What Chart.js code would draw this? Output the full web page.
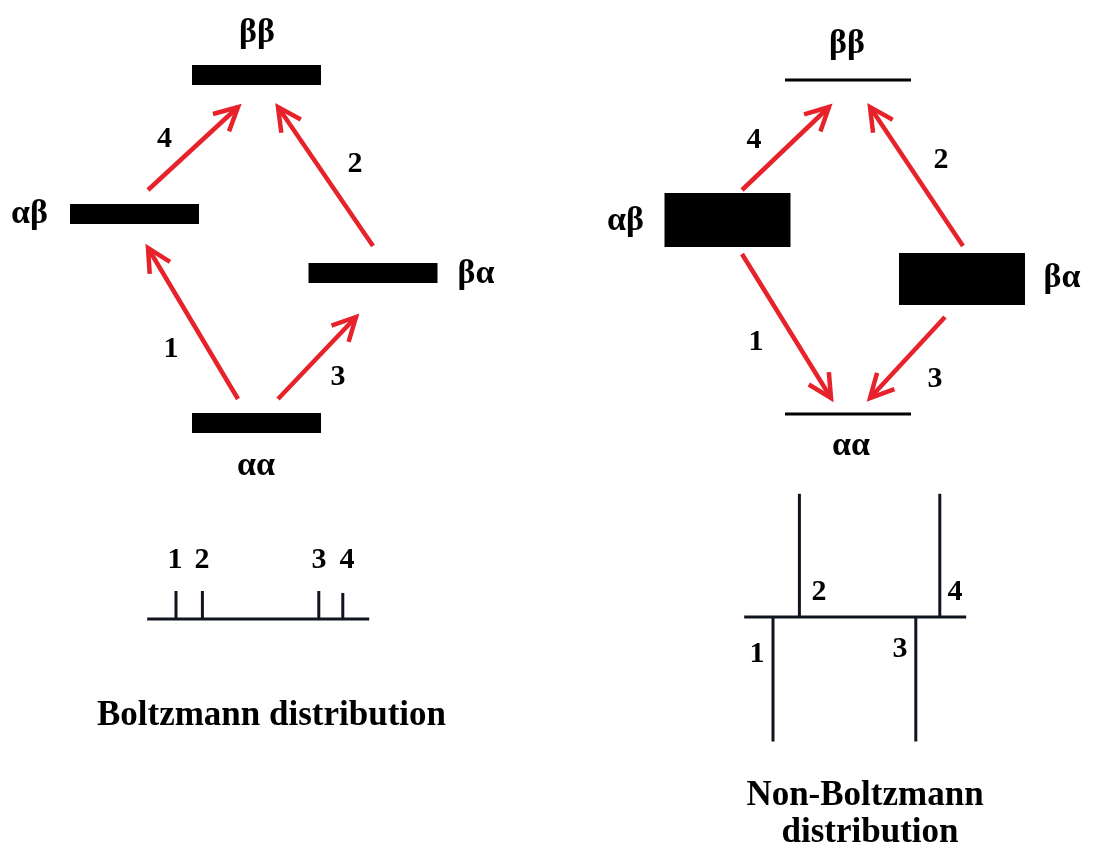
<!DOCTYPE html>
<html>
<head>
<meta charset="utf-8">
<title>Boltzmann vs non-Boltzmann populations</title>
<script src="https://cdn.jsdelivr.net/npm/chart.js@4/dist/chart.umd.min.js"></script>
<style>
  html, body { margin: 0; padding: 0; background: #ffffff; }
  #wrap { width: 1093px; height: 848px; }
</style>
</head>
<body>
<div id="wrap"><canvas id="c" width="1093" height="848"></canvas></div>
<script>
// ---- Data -----------------------------------------------------------------
// Two-spin (AX) system: energy levels, populations and the four transitions.
const states = ['αα', 'αβ', 'βα', 'ββ'];
const energyBoltz = [0, 209, 150, 348];          // relative energies, arb. units
const energyNonBoltz = [0, 194, 135, 334];
const populationBoltz = [1, 1, 1, 1];            // relative populations
const populationNonBoltz = [0.14, 2.7, 2.6, 0.14];

const transitionLabels = ['1', '2', '3', '4'];
const transitions = [[0, 1], [2, 3], [0, 2], [1, 3]]; // [lower, upper] state index
const directionBoltz = [1, 1, 1, 1];             // +1 absorption, -1 emission
const directionNonBoltz = [-1, 1, -1, 1];

// Stick spectra
const lineFrequency = [209, 198, 149.5, 139.5];  // arb. units, high on the left
const intensityBoltz = [1, 1, 1, 0.93];
const intensityNonBoltz = [-4.45, 4.4, -4.45, 4.4];
const spectrumWindow = [221, 128.5];

const panelTitles = [['Boltzmann distribution'], ['Non-Boltzmann', 'distribution']];

// ---- Layout ---------------------------------------------------------------
const W = 1093, H = 848;
const RED = '#e6222a';
const INK = '#000000';
const STICK = '#10141f';
const STATE_FONT = 'bold 34px "Liberation Serif", "DejaVu Serif", serif';
const LABEL_FONT = 'bold 30px "Liberation Serif", "DejaVu Serif", serif';
const TITLE_FONT = 'bold 35px "Liberation Serif", "DejaVu Serif", serif';
const PX_PER_POP = 20;

const panels = [
  {
    key: 'B', energy: energyBoltz, population: populationBoltz,
    direction: directionBoltz, intensity: intensityBoltz,
    zeroPx: 423, levelCx: [256.5, 134.5, 373, 256.5], levelHalf: 64.5,
    // [dx, dE] offsets at the start level and at the arrow tip level
    arrowOffsets: [[-18.5, 24, 13.5, -34], [0, 27, 21.5, -32], [21.5, 24, -17, -44], [13.5, 24, -18.5, -32]],
    stateLabelOffsets: [[-0.5, -52], [-105, -9], [103, -10], [0.5, 33]],
    transLabelPos: [[171, 357], [355, 172], [338, 385], [164.5, 147]],
    spec: { refPx: 176, zeroPx: 619, pxPerFreq: 2.4, pxPerInt: 28 },
    specLabelPos: [[175, 568], [202, 568], [319, 568], [347, 568]],
    titlePos: [[271.5, 725]]
  },
  {
    key: 'N', energy: energyNonBoltz, population: populationNonBoltz,
    direction: directionNonBoltz, intensity: intensityNonBoltz,
    zeroPx: 414, levelCx: [848, 727.5, 962, 848], levelHalf: 63,
    arrowOffsets: [[14.5, -34, -17, 16], [1, 33, 22, -27], [-17, -38, 22, 16], [14.5, 30, -19, -27]],
    stateLabelOffsets: [[3, -41], [-102, -10], [100, -8], [-1, 27]],
    transLabelPos: [[756, 350], [941, 168], [935, 387], [754, 148]],
    spec: { refPx: 773, zeroPx: 617, pxPerFreq: 2.4, pxPerInt: 28 },
    specLabelPos: [[757, 662], [819, 600], [900, 657], [955, 600]],
    titlePos: [[865, 805], [870, 842]]
  }
];

// ---- Scales ---------------------------------------------------------------
const hidden = { type: 'linear', display: false, grid: { display: false } };
const scales = { x: Object.assign({}, hidden, { min: 0, max: W }) };
panels.forEach(p => {
  // energy axis: 1 unit per pixel, energy 0 at p.zeroPx
  scales['yE' + p.key] = Object.assign({}, hidden, { min: -(H - p.zeroPx), max: p.zeroPx });
  // spectrum frequency axis (reversed), anchored so that line 1 sits at refPx
  const fMax = lineFrequency[0] + p.spec.refPx / p.spec.pxPerFreq;
  scales['xS' + p.key] = Object.assign({}, hidden, { reverse: true, max: fMax, min: fMax - W / p.spec.pxPerFreq });
  // spectrum intensity axis
  const iMin = -(H - p.spec.zeroPx) / p.spec.pxPerInt;
  scales['yS' + p.key] = Object.assign({}, hidden, { min: iMin, max: iMin + H / p.spec.pxPerInt });
});

// ---- Datasets -------------------------------------------------------------
const datasets = [];
const seg = (pts, xAxisID, yAxisID, color, width, extra) => Object.assign({
  data: pts, xAxisID, yAxisID, showLine: true, borderColor: color, backgroundColor: color,
  borderWidth: width, pointRadius: 0, borderCapStyle: 'butt', clip: false, tension: 0
}, extra || {});

panels.forEach(p => {
  const yE = 'yE' + p.key;
  // energy levels, thickness proportional to population
  states.forEach((s, i) => {
    datasets.push(seg([
      { x: p.levelCx[i] - p.levelHalf, y: p.energy[i] },
      { x: p.levelCx[i] + p.levelHalf, y: p.energy[i] }
    ], 'x', yE, INK, p.population[i] * PX_PER_POP));
  });
  // transition arrows
  transitions.forEach((t, i) => {
    const [lo, hi] = t;
    const from = p.direction[i] > 0 ? lo : hi;
    const to = p.direction[i] > 0 ? hi : lo;
    const o = p.arrowOffsets[i];
    datasets.push(seg([
      { x: p.levelCx[from] + o[0], y: p.energy[from] + o[1] },
      { x: p.levelCx[to] + o[2], y: p.energy[to] + o[3] }
    ], 'x', yE, RED, 4.5, { arrow: true }));
  });
  // spectrum baseline and sticks
  const xS = 'xS' + p.key, yS = 'yS' + p.key;
  datasets.push(seg([{ x: spectrumWindow[0], y: 0 }, { x: spectrumWindow[1], y: 0 }], xS, yS, STICK, 3));
  lineFrequency.forEach((f, i) => {
    datasets.push(seg([{ x: f, y: 0 }, { x: f, y: p.intensity[i] }], xS, yS, STICK, 3));
  });
});

// ---- Plugins --------------------------------------------------------------
const arrowHeads = {
  id: 'arrowHeads',
  afterDatasetsDraw(chart) {
    const ctx = chart.ctx;
    chart.data.datasets.forEach((ds, di) => {
      if (!ds.arrow) return;
      const pts = chart.getDatasetMeta(di).data;
      const a = pts[0], b = pts[pts.length - 1];
      const ang = Math.atan2(b.y - a.y, b.x - a.x);
      const len = 26, spread = 27 * Math.PI / 180;
      ctx.save();
      ctx.strokeStyle = ds.borderColor;
      ctx.lineWidth = ds.borderWidth;
      ctx.lineJoin = 'miter';
      ctx.lineCap = 'butt';
      ctx.beginPath();
      ctx.moveTo(b.x - len * Math.cos(ang - spread), b.y - len * Math.sin(ang - spread));
      ctx.lineTo(b.x, b.y);
      ctx.lineTo(b.x - len * Math.cos(ang + spread), b.y - len * Math.sin(ang + spread));
      ctx.stroke();
      ctx.restore();
    });
  }
};

const textLabels = {
  id: 'textLabels',
  afterDraw(chart) {
    const ctx = chart.ctx;
    const sx = chart.scales.x;
    ctx.save();
    ctx.fillStyle = '#000000';
    ctx.textAlign = 'center';
    ctx.textBaseline = 'alphabetic';
    panels.forEach((p, pi) => {
      const sy = chart.scales['yE' + p.key];
      ctx.font = STATE_FONT;
      states.forEach((s, i) => {
        const o = p.stateLabelOffsets[i];
        ctx.fillText(s, sx.getPixelForValue(p.levelCx[i] + o[0]), sy.getPixelForValue(p.energy[i] + o[1]));
      });
      ctx.font = LABEL_FONT;
      transitionLabels.forEach((t, i) => {
        ctx.fillText(t, p.transLabelPos[i][0], p.transLabelPos[i][1]);
        ctx.fillText(t, p.specLabelPos[i][0], p.specLabelPos[i][1]);
      });
      ctx.font = TITLE_FONT;
      panelTitles[pi].forEach((line, j) => ctx.fillText(line, p.titlePos[j][0], p.titlePos[j][1]));
    });
    ctx.restore();
  }
};

new Chart(document.getElementById('c'), {
  type: 'scatter',
  data: { datasets },
  options: {
    responsive: false,
    animation: false,
    events: [],
    layout: { padding: 0 },
    plugins: { legend: { display: false }, tooltip: { enabled: false }, title: { display: false } },
    scales
  },
  plugins: [arrowHeads, textLabels]
});
</script>
</body>
</html>
